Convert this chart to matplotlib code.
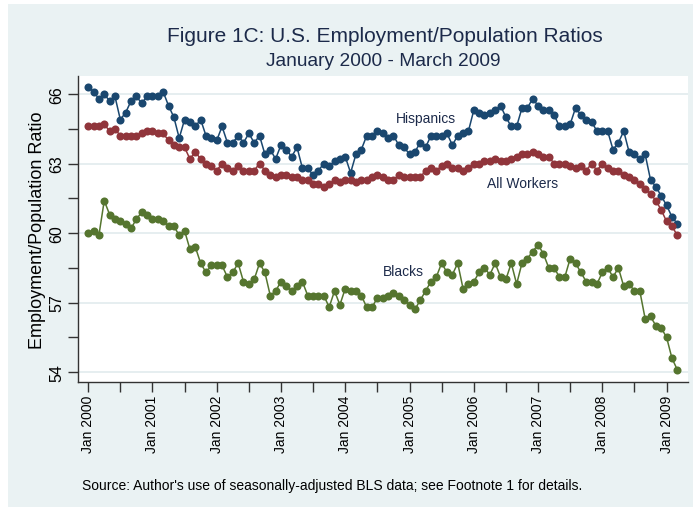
import matplotlib.pyplot as plt
from matplotlib.patches import Rectangle
import numpy as np

plt.rcParams['font.family'] = ['Liberation Sans', 'DejaVu Sans']

# monthly values, Jan 2000 - Mar 2009
hispanics = [
    66.3, 66.1, 65.8, 66.0, 65.7, 65.9, 64.9, 65.2, 65.7, 65.9, 65.6, 65.9,
    65.9, 65.9, 66.1, 65.5, 65.0, 64.1, 64.9, 64.8, 64.6, 64.9, 64.2, 64.1,
    64.0, 64.6, 63.9, 63.9, 64.2, 63.9, 64.3, 63.9, 64.2, 63.4, 63.6, 63.2,
    63.8, 63.6, 63.3, 63.7, 62.8, 62.8, 62.5, 62.7, 63.0, 62.9, 63.1, 63.2,
    63.3, 62.6, 63.4, 63.6, 64.2, 64.2, 64.4, 64.3, 64.1, 64.2, 63.8, 63.7,
    63.4, 63.5, 63.9, 63.7, 64.2, 64.2, 64.2, 64.3, 63.8, 64.2, 64.3, 64.4,
    65.3, 65.2, 65.1, 65.2, 65.3, 65.5, 65.0, 64.6, 64.6, 65.4, 65.4, 65.8,
    65.5, 65.3, 65.3, 65.1, 64.6, 64.6, 64.7, 65.4, 65.1, 64.9, 64.8, 64.4,
    64.4, 64.4, 63.6, 63.9, 64.4, 63.5, 63.4, 63.2, 63.4, 62.3, 62.0, 61.6,
    61.2, 60.7, 60.4,
]
all_workers = [
    64.6, 64.6, 64.6, 64.7, 64.4, 64.5, 64.2, 64.2, 64.2, 64.2, 64.3, 64.4,
    64.4, 64.3, 64.3, 64.0, 63.8, 63.7, 63.7, 63.2, 63.5, 63.2, 63.0, 62.9,
    62.7, 63.0, 62.8, 62.7, 62.9, 62.7, 62.7, 62.7, 63.0, 62.7, 62.5, 62.4,
    62.5, 62.5, 62.4, 62.4, 62.3, 62.3, 62.1, 62.1, 62.0, 62.1, 62.3, 62.2,
    62.3, 62.3, 62.2, 62.3, 62.3, 62.4, 62.5, 62.4, 62.3, 62.3, 62.5, 62.4,
    62.4, 62.4, 62.4, 62.7, 62.8, 62.7, 62.9, 63.0, 62.8, 62.8, 62.7, 62.8,
    63.0, 63.0, 63.1, 63.1, 63.2, 63.1, 63.1, 63.2, 63.3, 63.4, 63.4, 63.5,
    63.4, 63.3, 63.3, 63.0, 63.0, 63.0, 62.9, 62.8, 62.9, 62.7, 63.0, 62.7,
    63.0, 62.8, 62.7, 62.7, 62.5, 62.4, 62.3, 62.1, 61.9, 61.7, 61.4, 61.0,
    60.5, 60.3, 59.9,
]
blacks = [
    60.0, 60.1, 59.9, 61.4, 60.8, 60.6, 60.5, 60.4, 60.2, 60.6, 60.9, 60.8,
    60.6, 60.6, 60.5, 60.3, 60.3, 59.9, 60.1, 59.3, 59.4, 58.7, 58.3, 58.6,
    58.6, 58.6, 58.1, 58.3, 58.7, 57.9, 57.8, 58.0, 58.7, 58.3, 57.3, 57.5,
    57.9, 57.7, 57.5, 57.7, 57.9, 57.3, 57.3, 57.3, 57.3, 56.8, 57.5, 56.9,
    57.6, 57.5, 57.5, 57.3, 56.8, 56.8, 57.2, 57.2, 57.3, 57.4, 57.3, 57.1,
    56.9, 56.7, 57.1, 57.5, 57.9, 58.1, 58.7, 58.3, 58.2, 58.7, 57.6, 57.8,
    57.9, 58.3, 58.5, 58.2, 58.7, 58.1, 58.0, 58.7, 57.8, 58.7, 58.9, 59.2,
    59.5, 59.1, 58.5, 58.5, 58.1, 58.1, 58.9, 58.7, 58.3, 57.9, 57.9, 57.8,
    58.3, 58.5, 58.1, 58.5, 57.7, 57.8, 57.5, 57.5, 56.3, 56.4, 56.0, 55.9,
    55.5, 54.6, 54.1,
]
year_labels = ['Jan 2000', 'Jan 2001', 'Jan 2002', 'Jan 2003', 'Jan 2004',
               'Jan 2005', 'Jan 2006', 'Jan 2007', 'Jan 2008', 'Jan 2009']
y_ticks = [54, 57, 60, 63, 66]

months = np.arange(len(all_workers))

fig = plt.figure(figsize=(6.96, 5.10), dpi=100)
fig.patch.set_facecolor('white')
fig.patches.append(Rectangle((8 / 696, 2 / 510), 685 / 696, 503 / 510,
                             transform=fig.transFigure, facecolor='#EAF2F3',
                             edgecolor='none', zorder=-10))

ax = fig.add_axes([78 / 696, 1 - 383 / 510, 610 / 696, 306 / 510])
ax.set_facecolor('white')

series = [
    (hispanics, '#1A476F'),
    (all_workers, '#90353B'),
    (blacks, '#55752F'),
]
for vals, col in series:
    ax.plot(months, vals, color=col, lw=1.1, marker='o', ms=5.8,
            markeredgewidth=0, zorder=3)

ax.text(57.5, 64.96, 'Hispanics', fontsize=10, color='#1C2A4A', va='center')
ax.text(74.4, 62.16, 'All Workers', fontsize=10, color='#1C2A4A', va='center')
ax.text(55.0, 58.36, 'Blacks', fontsize=10, color='#1C2A4A', va='center')

ax.set_xlim(-1.9, 112)
ax.set_ylim(53.57, 66.78)

ax.set_yticks(y_ticks)
ax.set_yticks([55.5, 58.5, 61.5, 64.5], minor=True)
ax.set_yticklabels([str(t) for t in y_ticks], rotation=90, va='center')
ax.set_xticks(np.arange(0, 120, 12)[:len(year_labels)])
ax.set_xticks(np.arange(6, 120, 12)[:9], minor=True)
ax.set_xticklabels(year_labels, rotation=90, fontsize=10)

ax.tick_params(axis='y', which='both', length=7, width=1, colors='#333333',
               labelsize=11.5, pad=3, labelcolor='black')
ax.tick_params(axis='x', which='both', length=7, width=1, colors='#333333',
               pad=2, labelcolor='black')

ax.grid(axis='y', which='major', color='#E6EEF0', lw=1.4, zorder=0)
for s in ['top', 'right']:
    ax.spines[s].set_visible(False)
for s in ['left', 'bottom']:
    ax.spines[s].set_color('#333333')
    ax.spines[s].set_linewidth(1)

fig.text(38 / 696, 1 - 230 / 510, 'Employment/Population Ratio', rotation=90,
         fontsize=13, ha='center', va='center')
fig.text(385 / 696, 1 - 37 / 510, 'Figure 1C: U.S. Employment/Population Ratios',
         fontsize=15, color='#1C2A4A', ha='center', va='center')
fig.text(383 / 696, 1 - 61 / 510, 'January 2000 - March 2009',
         fontsize=13.8, color='#1C2A4A', ha='center', va='center')
fig.text(82 / 696, 1 - 486 / 510,
         "Source: Author's use of seasonally-adjusted BLS data; see Footnote 1 for details.",
         fontsize=10, ha='left', va='center')

fig.savefig('out.png', dpi=100)
